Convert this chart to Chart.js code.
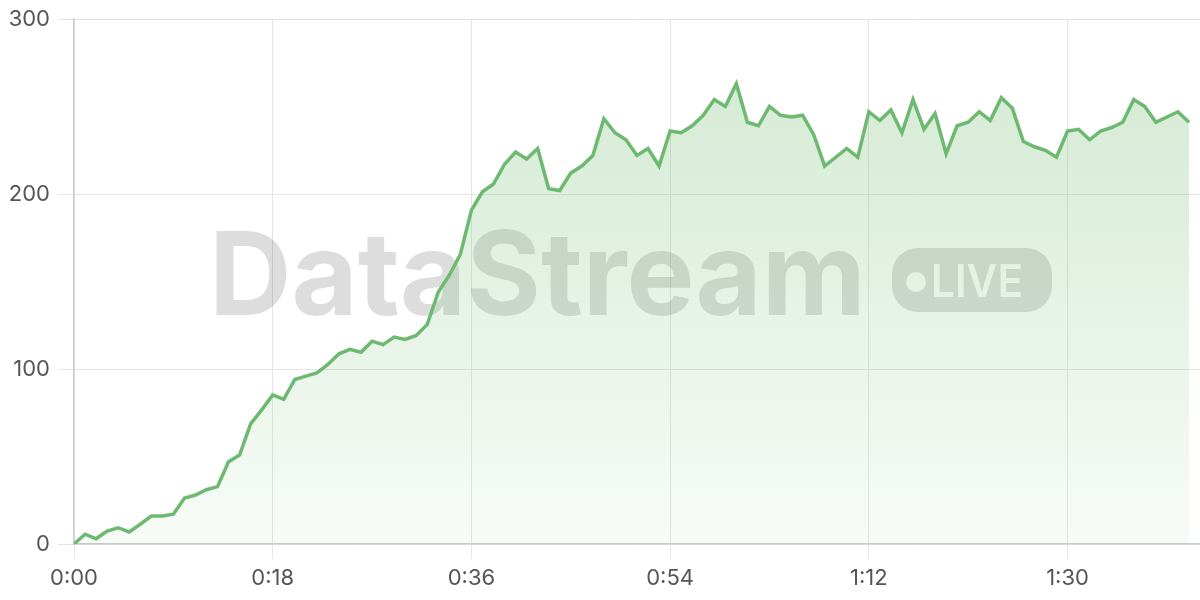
<!DOCTYPE html>
<html>
<head>
<meta charset="utf-8">
<script src="https://cdn.jsdelivr.net/npm/chart.js@4.4.0/dist/chart.umd.min.js"></script>
<style>
    html, body { margin: 0; padding: 0; background: #fff; }
    #wrap { width: 1200px; height: 600px; position: relative; }
</style>
</head>
<body>
<div id="wrap"><canvas id="streamChart"></canvas></div>
<script>
// Values sampled once a second (0:00 .. 1:41)
const values = [
    0, 5.6, 3, 7.4, 9.3, 6.9, 11.3, 16, 16, 17,
    26.2, 28, 31, 32.8, 47, 50.8, 68.6, 76.6, 85.2, 82.7,
    94, 95.9, 97.8, 102.6, 108.7, 111.2, 109.6, 115.9, 113.9, 118.2,
    116.9, 119.2, 125.5, 144, 153.6, 165.6, 190.8, 201.3, 205.7, 217,
    224, 220, 226, 203, 202, 212, 216, 222, 243, 235,
    231, 222, 226, 216, 236, 235, 239, 245, 254, 250,
    263, 241, 239, 250, 245, 244, 245, 234, 216, 221,
    226, 221, 247, 242, 248, 235, 254, 237, 246, 223,
    239, 241, 247, 242, 255, 249, 230, 227, 225, 221,
    236, 237, 231, 236, 238, 241, 254, 250, 241, 244,
    247, 241
];
const sampleStep = 1; // seconds between samples
const seconds = values.map((_, i) => i * sampleStep);

const xMax = 102;
const xStep = 18;
const yTicks = [0, 100, 200, 300];

const watermarkText = 'DataStream';
const badgeText = 'LIVE';

function fmtTime(s) {
    const m = Math.floor(s / 60);
    const sec = Math.round(s % 60);
    return m + ':' + String(sec).padStart(2, '0');
}

// Watermark drawn under the data, over the grid
const watermark = {
    id: 'watermark',
    beforeDatasetsDraw(chart) {
        const { ctx, width, height } = chart;
        const off = document.createElement('canvas');
        const dpr = chart.currentDevicePixelRatio;
        off.width = width * dpr;
        off.height = height * dpr;
        const o = off.getContext('2d');
        o.scale(dpr, dpr);
        o.fillStyle = '#000';

        // big word
        o.font = 'bold 116px Inter';
        const w = o.measureText(watermarkText).width;
        const sx = 657 / w;
        o.save();
        o.translate(209, 315);
        o.scale(sx, 1);
        o.textBaseline = 'alphabetic';
        o.fillText(watermarkText, 0, 0);
        o.restore();

        // badge
        o.beginPath();
        o.roundRect(892, 248, 160, 64, 26);
        o.fill();
        o.globalCompositeOperation = 'destination-out';
        o.beginPath();
        o.arc(916, 282, 10, 0, Math.PI * 2);
        o.fill();
        o.font = '600 45px Inter';
        const lw = o.measureText(badgeText).width;
        o.save();
        o.translate(931, 297);
        o.scale(92 / lw, 1);
        o.fillText(badgeText, 0, 0);
        o.restore();

        ctx.save();
        ctx.globalAlpha = 0.135;
        ctx.drawImage(off, 0, 0, width, height);
        ctx.restore();
    }
};

const ctx = document.getElementById('streamChart').getContext('2d');

const fillGradient = (context) => {
    const area = context.chart.chartArea;
    if (!area) return 'rgba(110,185,110,0.2)';
    const g = context.chart.ctx.createLinearGradient(0, area.top, 0, area.bottom);
    g.addColorStop(0, 'rgba(110,185,110,0.32)');
    g.addColorStop(1, 'rgba(110,185,110,0.05)');
    return g;
};

const myChart = new Chart(ctx, {
    type: 'line',
    data: {
        labels: seconds,
        datasets: [{
            data: values,
            borderColor: 'rgb(110, 185, 112)',
            borderWidth: 3.5,
            backgroundColor: fillGradient,
            fill: 'origin',
            pointRadius: 0,
            tension: 0
        }]
    },
    options: {
        responsive: true,
        maintainAspectRatio: false,
        animation: false,
        layout: { padding: { top: 19, right: 0, left: 0, bottom: 0 } },
        plugins: {
            legend: { display: false },
            tooltip: { enabled: false }
        },
        scales: {
            x: {
                type: 'linear',
                min: 0,
                max: xMax,
                grid: { color: '#e5e5e5', lineWidth: 1, tickLength: 15 },
                border: { color: '#cccccc', width: 1.5 },
                ticks: {
                    stepSize: xStep,
                    includeBounds: false,
                    color: '#555',
                    font: { family: 'Inter', size: 22 },
                    padding: 6,
                    maxRotation: 0,
                    callback: (v) => fmtTime(v)
                },
                afterFit: (s) => { s.height = 56; }
            },
            y: {
                min: 0,
                max: 300,
                grid: { color: '#e5e5e5', lineWidth: 1, tickLength: 16 },
                border: { color: '#cccccc', width: 1.5 },
                afterBuildTicks: (s) => { s.ticks = yTicks.map(v => ({ value: v })); },
                ticks: {
                    color: '#555',
                    font: { family: 'Inter', size: 22, lineHeight: 1 },
                    padding: 8
                },
                afterFit: (s) => { s.width = 74; }
            }
        }
    },
    plugins: [watermark]
});
</script>
</body>
</html>
